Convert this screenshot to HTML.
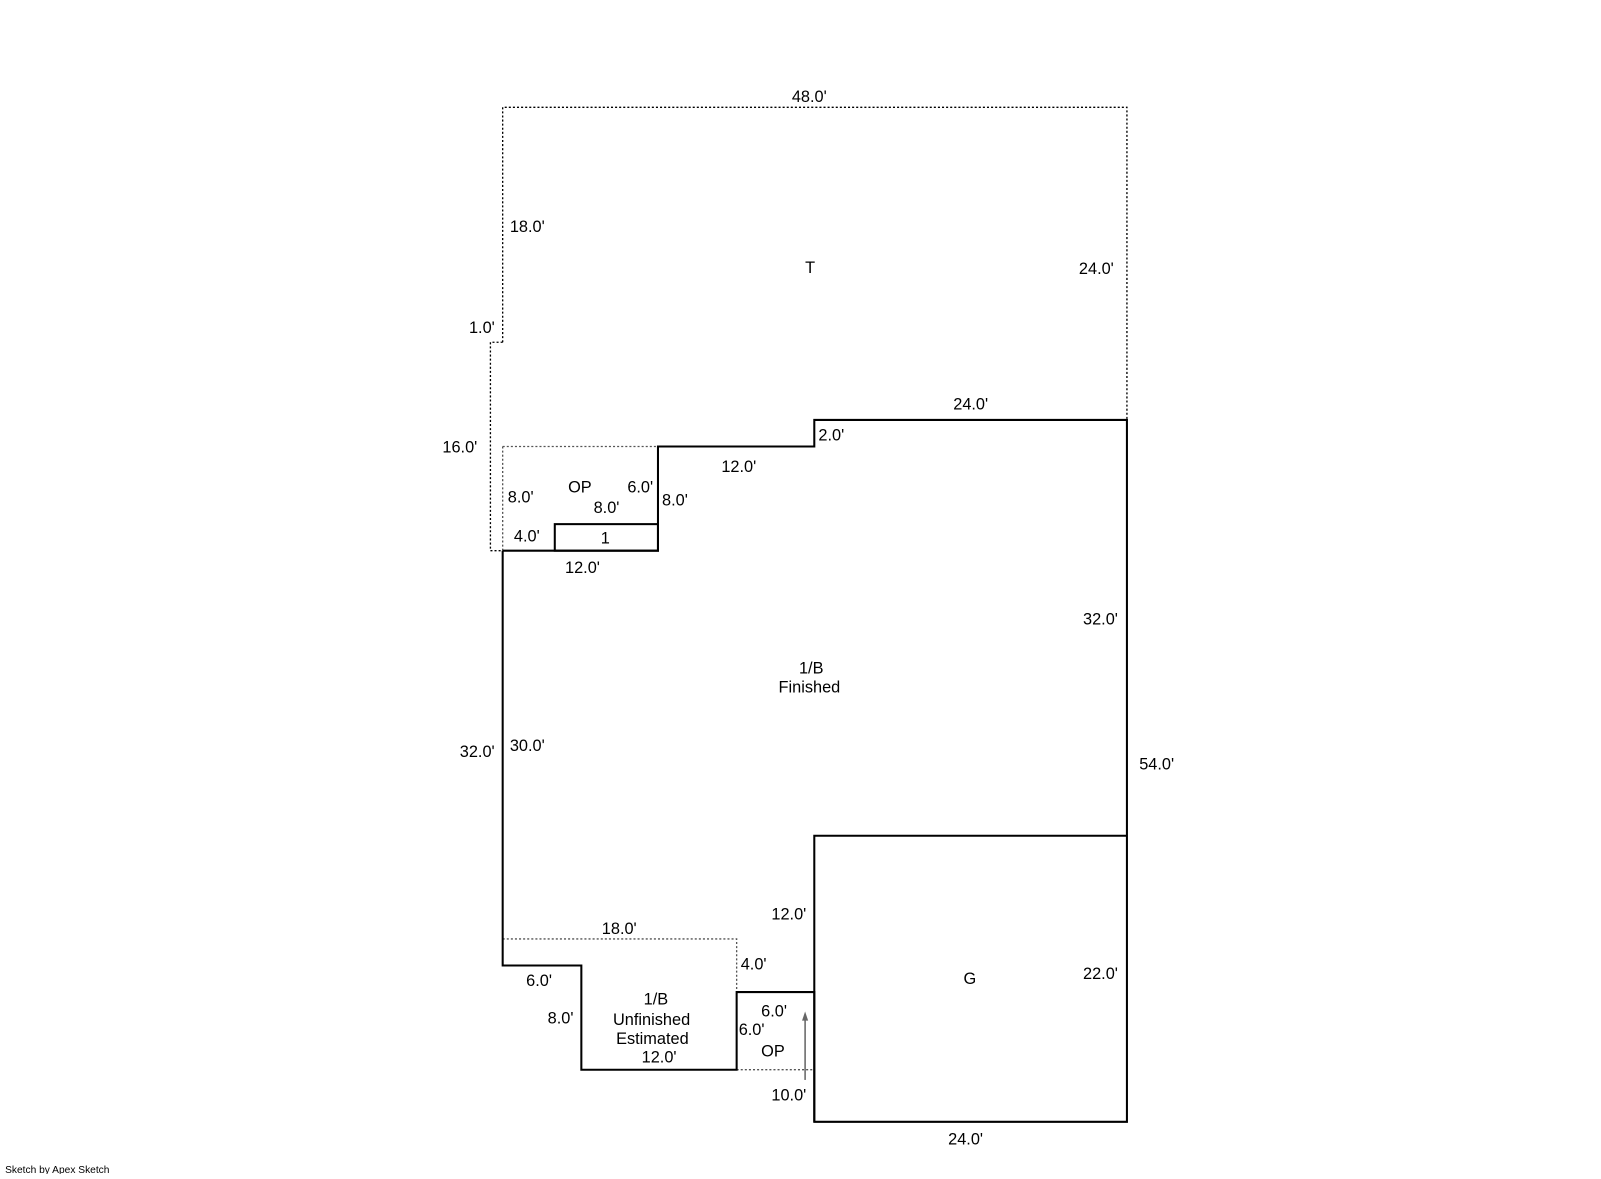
<!DOCTYPE html>
<html><head><meta charset="utf-8"><style>
body{margin:0;background:#fff}
svg text{font-family:"Liberation Sans",Arial,sans-serif;font-size:16px;fill:#000}
</style></head><body>
<svg width="1601" height="1174" viewBox="0 0 1601 1174" xmlns="http://www.w3.org/2000/svg">
<g transform="scale(1.0217)">
<g fill="none" stroke="#000" stroke-width="1.3" stroke-dasharray="2,2">
<polyline points="492,335 492,105 1103,105 1103,411"/>
<polyline points="492,335 480,335 480,539 492,539"/>
<polyline points="492,437 644,437" stroke="#555"/>
<polyline points="492,437 492,539" stroke="#555"/>
<polyline points="492,919 721,919 721,971" stroke="#555"/>
<polyline points="721,1047 797,1047" stroke="#555"/>
</g>
<g fill="none" stroke="#000" stroke-width="2">
<polyline points="492,539 644,539 644,437 797,437 797,411 1103,411 1103,1098 797,1098 797,818 1103,818"/>
<polyline points="492,539 492,945 569,945 569,1047 721,1047 721,971 797,971 797,1098"/>
<rect x="543" y="513" width="101" height="26"/>
</g>
<line x1="788" y1="1057" x2="788" y2="994" stroke="#666" stroke-width="1.5"/>
<polygon points="788,990 785,999 791,999" fill="#666"/>
<text x="775" y="100">48.0'</text>
<text x="499" y="227">18.0'</text>
<text x="1056" y="268">24.0'</text>
<text x="788" y="267">T</text>
<text x="459" y="326">1.0'</text>
<text x="933" y="401">24.0'</text>
<text x="801" y="431">2.0'</text>
<text x="433" y="443">16.0'</text>
<text x="706" y="462">12.0'</text>
<text x="556" y="482">OP</text>
<text x="614" y="482">6.0'</text>
<text x="497" y="492">8.0'</text>
<text x="581" y="502">8.0'</text>
<text x="648" y="495">8.0'</text>
<text x="503" y="530">4.0'</text>
<text x="588" y="532">1</text>
<text x="553" y="561">12.0'</text>
<text x="1060" y="611">32.0'</text>
<text x="782" y="659">1/B</text>
<text x="762" y="678">Finished</text>
<text x="450" y="741">32.0'</text>
<text x="499" y="735">30.0'</text>
<text x="1115" y="753">54.0'</text>
<text x="755" y="900">12.0'</text>
<text x="589" y="914">18.0'</text>
<text x="725" y="949">4.0'</text>
<text x="943" y="963">G</text>
<text x="1060" y="958">22.0'</text>
<text x="515" y="965">6.0'</text>
<text x="630" y="983">1/B</text>
<text x="600" y="1003">Unfinished</text>
<text x="603" y="1022">Estimated</text>
<text x="628" y="1040">12.0'</text>
<text x="536" y="1002">8.0'</text>
<text x="745" y="995">6.0'</text>
<text x="723" y="1013">6.0'</text>
<text x="745" y="1034">OP</text>
<text x="755" y="1077">10.0'</text>
<text x="928" y="1120">24.0'</text>
<text x="5" y="1148" style="font-size:10px">Sketch by Apex Sketch</text>
</g>
</svg>
</body></html>
